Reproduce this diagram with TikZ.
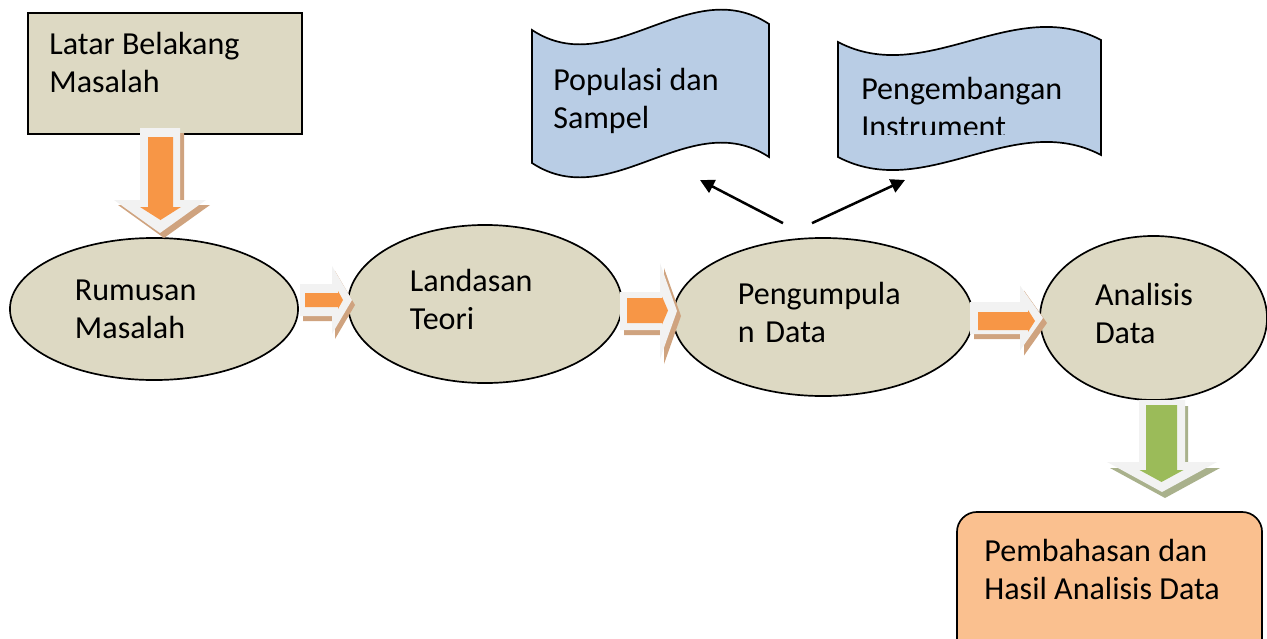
\documentclass[tikz,border=0pt]{standalone}
\usepackage{fontspec}
\setmainfont{Carlito}
\usepackage{xcolor}
\usetikzlibrary{arrows.meta,positioning,shapes.geometric,calc}
\definecolor{khaki}{HTML}{DDD9C3}
\definecolor{skyfill}{HTML}{B9CDE5}
\definecolor{peach}{HTML}{FAC08F}
\definecolor{tangerine}{HTML}{F79646}
\definecolor{leaf}{HTML}{9BBB59}
\definecolor{ghost}{HTML}{F2F2F2}
\definecolor{tanshade}{HTML}{CFA37F}
\definecolor{leafshade}{HTML}{A9B18C}
% block arrow outlines: length, shaft half width, head half width, head length
\newcommand{\RightArrowPath}[4]{(0,-#2) -- ({#1-#4},-#2) -- ({#1-#4},-#3) -- (#1,0) -- ({#1-#4},#3) -- ({#1-#4},#2) -- (0,#2) -- cycle}
\newcommand{\DownArrowPath}[4]{(-#2,0) -- (-#2,{#1-#4}) -- (-#3,{#1-#4}) -- (0,#1) -- (#3,{#1-#4}) -- (#2,{#1-#4}) -- (#2,0) -- cycle}
% scroll outline: x0, x1, top y (left, right), bottom y (left, right), swing
\newcommand{\WavePath}[7]{(#1,#3) .. controls ({#1+(#2-#1)/3},{#3+#7}) and ({#1+2*(#2-#1)/3},{#4-#7}) .. (#2,#4)
  -- (#2,#6) .. controls ({#1+2*(#2-#1)/3},{#6-#7}) and ({#1+(#2-#1)/3},{#5+#7}) .. (#1,#5) -- cycle}

\begin{document}
\begin{tikzpicture}[
  x=0.025cm, y=-0.025cm,
  every node/.style={font=\fontsize{22.8}{27}\selectfont, text=black},
  outline/.style={draw=black, line width=1.2pt},
  panel/.style={outline, rectangle, fill=khaki, inner sep=0pt},
  stage/.style={outline, ellipse, fill=khaki, inner sep=0pt, align=left},
  lifted/.style={text depth=1.2cm},
  scroll/.style={outline, fill=skyfill},
  result/.style={outline, rectangle, rounded corners=0.5cm, fill=peach, inner sep=0pt},
  caption/.style={inner sep=0pt, align=left, anchor=north west},
  pointer/.style={-{Triangle[length=10pt,width=10pt]}, line width=1.8pt},
  arrowbody/.style={fill=ghost},
  arrowshade/.style={fill=tanshade},
  arrowcore/.style={fill=tangerine}
]
\clip (0,0) rectangle (1267,638);

% ---------- Boxes ----------
\node[panel, minimum width=6.85cm, minimum height=3.025cm] (latar) at (165,73.5) {};
\node[caption] (latarText) at ($(latar.north west)+(22,20)$) {Latar Belakang\\Masalah};

\node[result, minimum width=7.625cm, minimum height=3.7cm] (pembahasan) at (1109.5,586) {};
\node[caption] (pembahasanText) at ($(pembahasan.north west)+(28,28)$) {Pembahasan dan\\Hasil Analisis Data};

% ---------- Stages ----------
\node[stage, minimum width=7.2cm, minimum height=3.55cm, text width=3.95cm] (rumusan) at (154,309) {Rumusan\\Masalah};
\node[stage, lifted, minimum width=6.85cm, minimum height=3.95cm, text width=3.75cm] (landasan) at (485,304) {Landasan\\Teori};
\node[stage, lifted, minimum width=7.5cm, minimum height=3.95cm, text width=4.25cm] (pengumpulan) at (823,317) {Pengumpula\\n Data};
\node[stage, lifted, minimum width=5.675cm, minimum height=4.1cm, text width=2.925cm] (analisis) at (1153.5,318) {Analisis\\Data};

% ---------- Scrolls ----------
\draw[scroll] \WavePath{532}{769}{30}{24}{163}{157}{52};
\node[caption] (populasi) at (553,68) {Populasi dan\\Sampel};

\draw[scroll] \WavePath{838}{1101}{42}{40}{157}{155}{46};
\begin{scope}
  \clip (838,0) rectangle (1101,134);
  \node[caption] (pengembangan) at (861,77) {Pengembangan\\Instrument};
\end{scope}

% ---------- Thin arrows ----------
\coordinate (popTip) at (700,180);
\coordinate (insTip) at (905,180);
\draw[pointer] ($(pengumpulan.north)+(-40,-14)$) -- (popTip);
\draw[pointer] ($(pengumpulan.north)+(-11,-14)$) -- (insTip);

% ---------- Block arrows ----------
\fill[arrowshade, shift={(164,133)}] \DownArrowPath{105}{20}{46}{33};
\fill[arrowbody, shift={(160,128)}] \DownArrowPath{105}{20}{46}{33};
\fill[arrowcore, shift={(160.5,137)}] \DownArrowPath{83}{12.5}{20.5}{13};

\fill[arrowshade, shift={(303,305)}] \RightArrowPath{52}{16}{34}{20};
\fill[arrowbody, shift={(300,300)}] \RightArrowPath{52}{16}{34}{20};
\fill[arrowcore, shift={(305,300)}] \RightArrowPath{38}{7}{9}{5};

\fill[arrowshade, shift={(624,316)}] \RightArrowPath{57}{19}{48}{17};
\fill[arrowbody, shift={(620,311)}] \RightArrowPath{57}{19}{48}{17};
\fill[arrowcore, shift={(627,310.5)}] \RightArrowPath{41}{12.5}{14}{6};

\fill[arrowshade, shift={(974,323)}] \RightArrowPath{73}{16}{32.5}{23};
\fill[arrowbody, shift={(970,318)}] \RightArrowPath{73}{16}{32.5}{23};
\fill[arrowcore, shift={(978,321)}] \RightArrowPath{57}{9}{11}{7};

\fill[fill=leafshade, shift={(1165,406)}] \DownArrowPath{92}{23}{55}{30};
\fill[arrowbody, shift={(1162,400)}] \DownArrowPath{92}{23}{55}{30};
\fill[fill=leaf, shift={(1161.5,405)}] \DownArrowPath{77}{15.5}{22}{12};

\end{tikzpicture}
\end{document}
